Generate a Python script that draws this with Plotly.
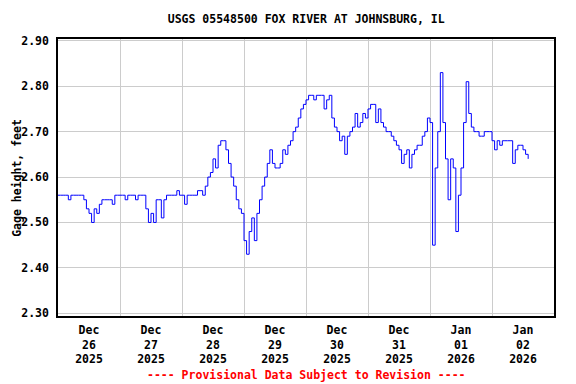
import pandas as pd
import plotly.graph_objects as go

# Hourly gage height readings (feet), starting 2025-12-26 00:00
start_time = "2025-12-26 00:00"
gage_height = [
    # Dec 26
    2.56, 2.56, 2.56, 2.56, 2.55, 2.56, 2.56, 2.56, 2.56, 2.56, 2.55, 2.53,
    2.52, 2.50, 2.53, 2.52, 2.54, 2.55, 2.55, 2.55, 2.55, 2.54, 2.56, 2.56,
    # Dec 27
    2.56, 2.56, 2.55, 2.56, 2.56, 2.56, 2.55, 2.56, 2.56, 2.56, 2.53, 2.50,
    2.52, 2.50, 2.55, 2.55, 2.51, 2.55, 2.56, 2.56, 2.56, 2.56, 2.57, 2.56,
    # Dec 28
    2.56, 2.54, 2.56, 2.56, 2.56, 2.56, 2.57, 2.57, 2.56, 2.58, 2.60, 2.61,
    2.64, 2.62, 2.67, 2.68, 2.68, 2.66, 2.63, 2.60, 2.58, 2.55, 2.53, 2.52,
    # Dec 29
    2.46, 2.43, 2.48, 2.51, 2.46, 2.52, 2.55, 2.58, 2.60, 2.63, 2.66, 2.63,
    2.62, 2.62, 2.63, 2.66, 2.65, 2.67, 2.68, 2.70, 2.71, 2.73, 2.75, 2.76,
    # Dec 30
    2.77, 2.78, 2.78, 2.77, 2.78, 2.78, 2.78, 2.75, 2.77, 2.78, 2.73, 2.71,
    2.70, 2.68, 2.69, 2.65, 2.69, 2.70, 2.71, 2.74, 2.71, 2.72, 2.74, 2.73,
    # Dec 31
    2.75, 2.76, 2.76, 2.72, 2.75, 2.72, 2.71, 2.70, 2.70, 2.69, 2.68, 2.67,
    2.66, 2.63, 2.65, 2.66, 2.62, 2.65, 2.66, 2.67, 2.67, 2.69, 2.70, 2.73,
    # Jan 01
    2.72, 2.45, 2.62, 2.70, 2.83, 2.72, 2.64, 2.55, 2.64, 2.62, 2.48, 2.56,
    2.62, 2.72, 2.81, 2.74, 2.71, 2.70, 2.70, 2.69, 2.69, 2.70, 2.70, 2.70,
    # Jan 02
    2.68, 2.66, 2.68, 2.67, 2.68, 2.68, 2.68, 2.68, 2.63, 2.66, 2.67, 2.67,
    2.66, 2.65, 2.64,
]
times = pd.date_range(start_time, periods=len(gage_height), freq="h")

label_days = pd.date_range("2025-12-26 12:00", periods=8, freq="D")
tick_text = ["Dec<br>26<br>2025", "Dec<br>27<br>2025", "Dec<br>28<br>2025",
             "Dec<br>29<br>2025", "Dec<br>30<br>2025", "Dec<br>31<br>2025",
             "Jan<br>01<br>2026", "Jan<br>02<br>2026"]
y_ticks = [2.30, 2.40, 2.50, 2.60, 2.70, 2.80, 2.90]

FONT = "DejaVu Sans Mono"

fig = go.Figure()
fig.add_trace(go.Scatter(
    x=times, y=gage_height, mode="lines",
    line=dict(color="#0000ff", width=1, shape="hv"),
    hoverinfo="x+y", showlegend=False,
))

fig.update_layout(
    width=568, height=376,
    margin=dict(l=50, r=22, t=31, b=68),
    paper_bgcolor="white", plot_bgcolor="white",
    font=dict(family=FONT, size=11, color="black"),
    title=dict(text="<b>USGS 05548500 FOX RIVER AT JOHNSBURG, IL</b>",
               x=0.525, xanchor="center", y=0.971, yanchor="middle",
               font=dict(family=FONT, size=11.5, color="black")),
    xaxis=dict(
        range=["2025-12-26 00:00", "2026-01-03 00:00"],
        tickvals=label_days,
        ticktext=["<b>" + t.replace("<br>", "</b><br><b>") + "</b>" for t in tick_text],
        showgrid=False, ticks="", ticklabelstandoff=2, automargin=False,
        showline=True, linecolor="black", linewidth=1.5, mirror=True,
        minor=dict(tick0="2025-12-26 00:00", dtick=86400000, showgrid=True,
                   gridcolor="#cccccc", gridwidth=1, ticks=""),
        tickfont=dict(family=FONT, size=11.5),
        zeroline=False,
    ),
    yaxis=dict(
        range=[2.294, 2.904],
        tickvals=y_ticks, ticktext=["<b>%.2f</b>" % v for v in y_ticks],
        showgrid=True, gridcolor="#cccccc", gridwidth=1,
        ticks="", ticklabelstandoff=5, automargin=False,
        showline=True, linecolor="black", linewidth=1.5, mirror=True,
        tickfont=dict(family=FONT, size=11.5),
        zeroline=False,
    ),
)

fig.add_annotation(
    text="<b>Gage height, feet</b>", textangle=-90,
    xref="paper", yref="paper", x=-0.084, y=0.5, xanchor="center", yanchor="middle",
    showarrow=False, borderpad=0, font=dict(family=FONT, size=11.5, color="black"),
)

fig.add_annotation(
    text="<b>---- Provisional Data Subject to Revision ----</b>",
    xref="paper", yref="paper", x=0.5, y=-0.213, xanchor="center", yanchor="middle",
    showarrow=False, font=dict(family=FONT, size=11.5, color="#ff0000"),
)

fig.write_html("out.html")
